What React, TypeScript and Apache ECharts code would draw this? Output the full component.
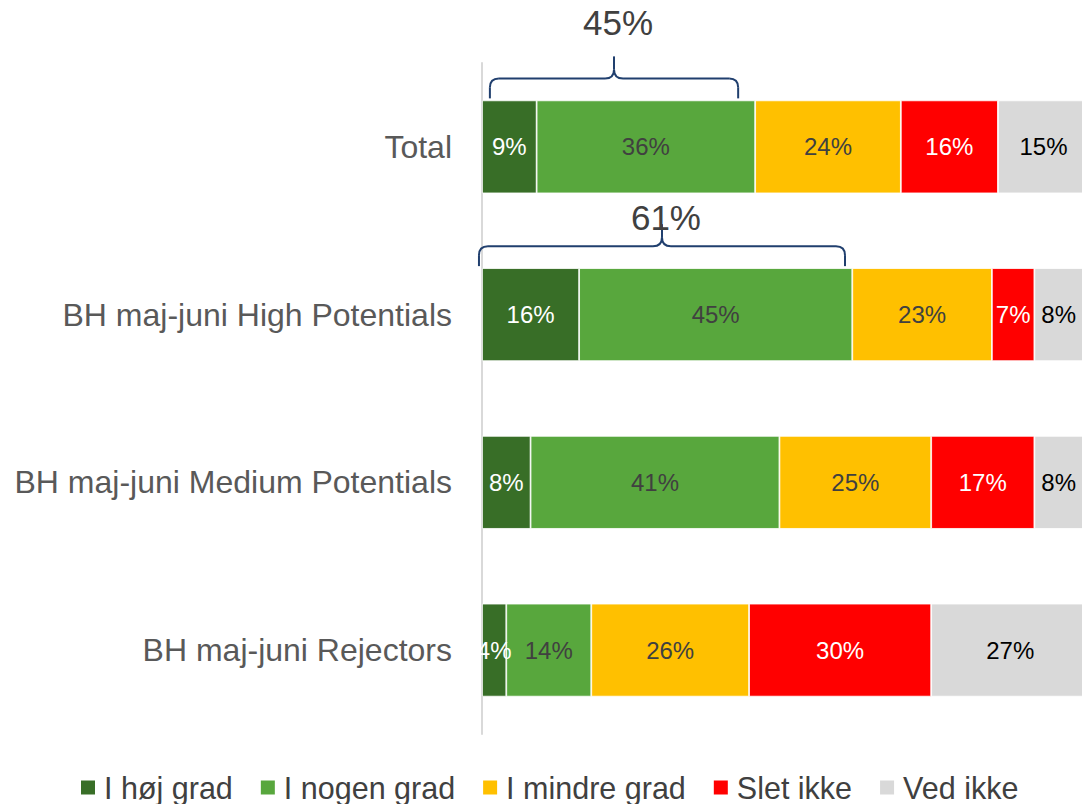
import React, { useEffect, useRef } from "react";
import * as echarts from "echarts";

const categories = [
  "Total",
  "BH maj-juni High Potentials",
  "BH maj-juni Medium Potentials",
  "BH maj-juni Rejectors",
];
const seriesNames = ["I høj grad", "I nogen grad", "I mindre grad", "Slet ikke", "Ved ikke"];
const hoejGrad = [9, 16, 8, 4];
const nogenGrad = [36, 45, 41, 14];
const mindreGrad = [24, 23, 25, 26];
const sletIkke = [16, 7, 17, 30];
const vedIkke = [15, 8, 8, 27];
const seriesValues = [hoejGrad, nogenGrad, mindreGrad, sletIkke, vedIkke];

// braces: [start %, end %, category index]
const braceRanges = [
  [1.3, 42.2, 0],
  [-0.5, 59.8, 1],
];
const braceLabels = ["45%", "61%"];
const braceLabelGap = [78, 51];

const colors = ["#386E27", "#58A73D", "#FFC000", "#FF0000", "#D9D9D9"];
const labelColors = ["#FFFFFF", "#404040", "#404040", "#FFFFFF", "#000000"];
const FONT = "'Liberation Sans', Arial, Helvetica, sans-serif";

export default function App() {
  const ref = useRef<HTMLDivElement>(null);
  useEffect(() => {
    if (!ref.current) return;
    const chart = echarts.init(ref.current, undefined, { renderer: "svg" });
    const barW = 93;
    const braceColor = "#203F6E";
    const barSeries = seriesValues.map((vals, i) => ({
      name: seriesNames[i],
      type: "bar",
      stack: "total",
      barWidth: barW,
      data: vals,
      itemStyle: { color: colors[i], borderColor: "#FFFFFF", borderWidth: 0.8 },
      label: {
        show: true,
        position: "inside",
        formatter: (p: any) => p.value + "%",
        color: labelColors[i],
        fontSize: 24,
        fontFamily: FONT,
      },
      emphasis: { disabled: true },
    }));
    const braceSeries = {
      type: "custom",
      name: "brace",
      silent: true,
      z: 10,
      data: braceRanges,
      renderItem: (params: any, api: any) => {
        const s = api.coord([api.value(0), api.value(2)]);
        const e = api.coord([api.value(1), api.value(2)]);
        const top = s[1] - barW / 2;
        const xL = s[0];
        const xR = e[0];
        const xT = (xL + xR) / 2;
        const yB = top - 2;
        const yH = top - 22;
        const yTip = top - 44;
        const r = 9;
        const st = { stroke: braceColor, lineWidth: 2, fill: "none" };
        const ln = (x1: number, y1: number, x2: number, y2: number) => ({
          type: "line",
          shape: { x1, y1, x2, y2 },
          style: st,
        });
        const bz = (x1: number, y1: number, cx: number, cy: number, x2: number, y2: number) => ({
          type: "bezierCurve",
          shape: { x1, y1, cpx1: cx, cpy1: cy, x2, y2 },
          style: st,
        });
        const idx = params.dataIndex;
        return {
          type: "group",
          children: [
            ln(xL, yB, xL, yH + r),
            bz(xL, yH + r, xL, yH, xL + r, yH),
            ln(xL + r, yH, xT - r, yH),
            bz(xT - r, yH, xT, yH, xT, yH - r),
            ln(xT, yH - r, xT, yTip),
            bz(xT + r, yH, xT, yH, xT, yH - r),
            ln(xT + r, yH, xR - r, yH),
            bz(xR, yH + r, xR, yH, xR - r, yH),
            ln(xR, yB, xR, yH + r),
            {
              type: "text",
              style: {
                text: braceLabels[idx],
                x: xT + 4,
                y: top - braceLabelGap[idx],
                align: "center",
                verticalAlign: "middle",
                fontSize: 35,
                fontFamily: FONT,
                fill: "#404040",
              },
            },
          ],
        };
      },
    };
    chart.setOption({
      animation: false,
      textStyle: { fontFamily: FONT },
      grid: { left: 482, right: 0, top: 63, bottom: 70, containLabel: false },
      xAxis: {
        type: "value",
        min: 0,
        max: 100,
        show: false,
      },
      yAxis: {
        type: "category",
        inverse: true,
        data: categories,
        axisLine: { show: true, lineStyle: { color: "#D9D9D9", width: 2 } },
        axisTick: { show: false },
        splitLine: { show: false },
        axisLabel: { fontSize: 32, color: "#595959", margin: 30, fontFamily: FONT },
      },
      legend: {
        data: seriesNames,
        top: 767,
        left: 74,
        icon: "rect",
        itemWidth: 16,
        itemHeight: 16,
        itemGap: 26,
        selectedMode: false,
        textStyle: { fontSize: 30.5, color: "#404040", fontFamily: FONT, padding: [0, 0, 0, 3] },
      },
      series: [...barSeries, braceSeries],
    });
    return () => chart.dispose();
  }, []);
  return (
    <div style={{ position: "absolute", left: 0, top: 0, width: 1082, height: 804, overflow: "hidden" }}>
      <div ref={ref} style={{ width: 1089, height: 804 }} />
    </div>
  );
}
